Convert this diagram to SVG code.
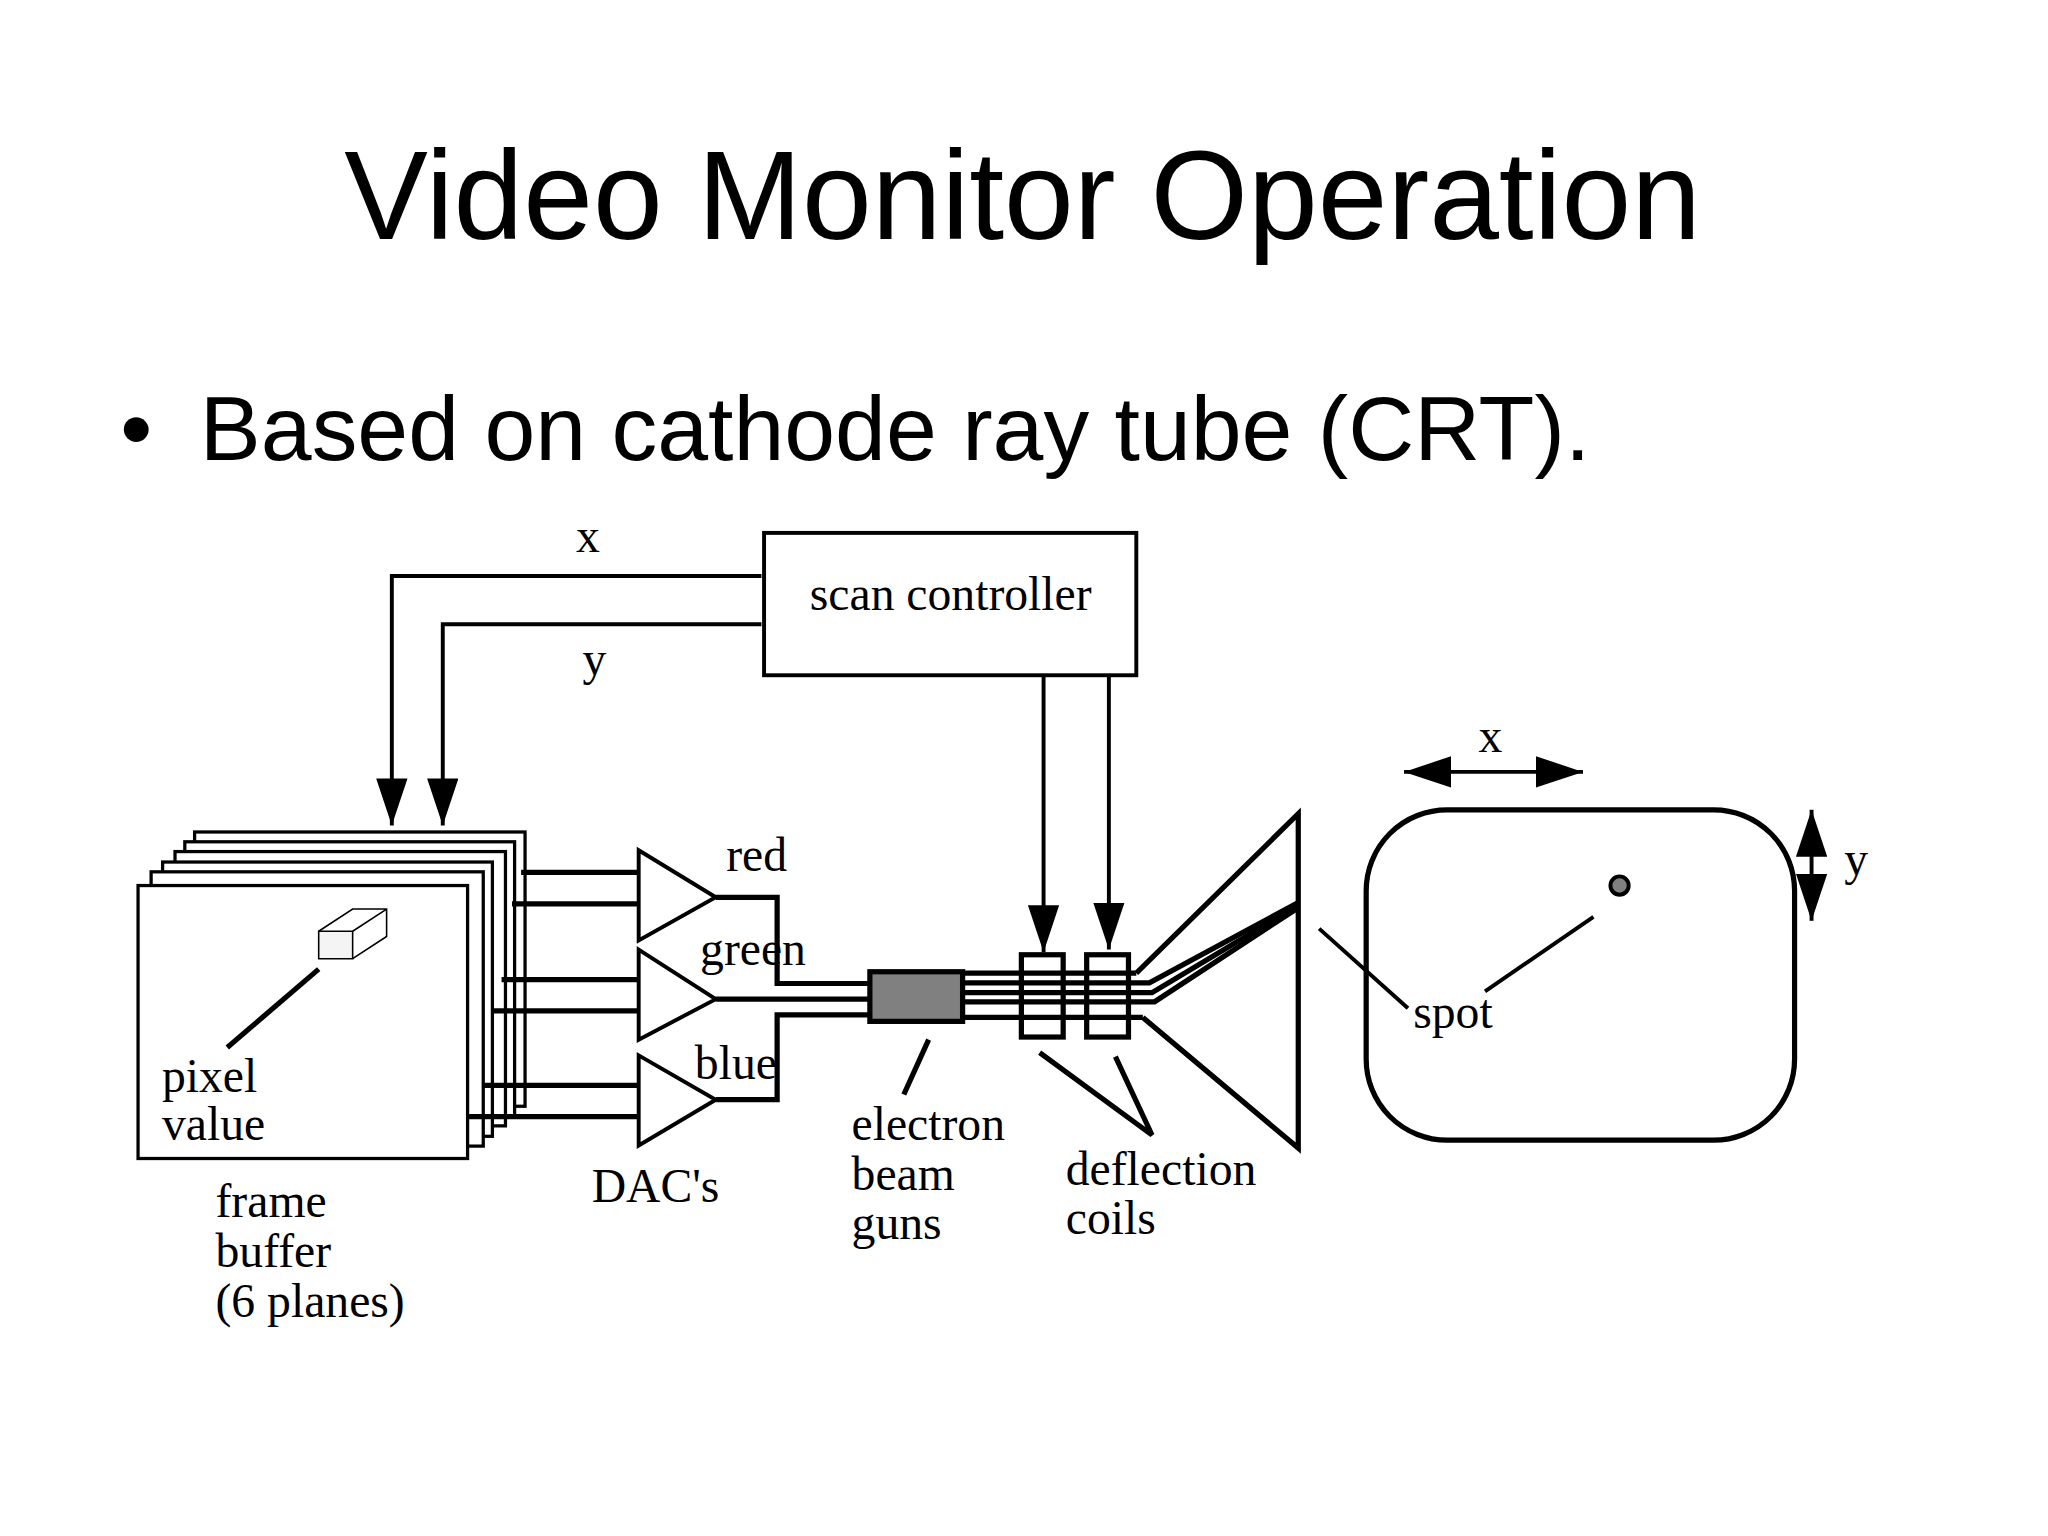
<svg xmlns="http://www.w3.org/2000/svg" width="2048" height="1536" viewBox="0 0 2048 1536">
<style>
.t{font-family:"Liberation Serif",serif;font-size:36.5px;fill:#000}
.s{font-family:"Liberation Sans",Arial,sans-serif;fill:#000}
.l{stroke:#000;stroke-width:3;fill:none}
.b{stroke:#000;stroke-width:4;fill:none}
.p{fill:#fff;stroke:#000;stroke-width:2.5}
</style>
<defs>
<marker id="ah" viewBox="0 0 36 24" refX="36" refY="12" markerUnits="userSpaceOnUse" markerWidth="36" markerHeight="24" orient="auto-start-reverse">
<path d="M0,0 L36,12 L0,24 Z" fill="#000"/>
</marker>
</defs>
<rect width="2048" height="1536" fill="#fff"/>
<g transform="scale(1.3061)">
<g id="title"><text class="s" x="783" y="183" font-size="96" text-anchor="middle">Video Monitor Operation</text></g>
<g id="bullet"><text class="s" x="92" y="352" font-size="70">•</text><text class="s" x="153" y="352" font-size="70">Based on cathode ray tube (CRT).</text></g>

<g id="scan-controller"><rect x="585" y="408" width="285" height="109" class="l" fill="#fff"/><text class="t" x="620" y="467">scan controller</text></g>

<g id="frame-buffer">
<rect class="p" x="149" y="637" width="253" height="210"/>
<rect class="p" x="141.5" y="644.5" width="252.5" height="210"/>
<rect class="p" x="134" y="652" width="253" height="210"/>
<rect class="p" x="124.5" y="660" width="252.5" height="210"/>
<rect class="p" x="115.7" y="667.5" width="254.3" height="210"/>
<rect class="p" x="105.7" y="678" width="252.3" height="209"/>
<path d="M244,713 h26 v21 h-26 z" fill="#f4f4f4" stroke="#000" stroke-width="1.2"/>
<path d="M244,713 L270,696 L296,696 L296,717 L270,734 M270,713 L296,696" fill="none" stroke="#000" stroke-width="1.2"/>
<line x1="244" y1="742" x2="174" y2="802" class="b"/>
<text class="t" x="124" y="836">pixel</text><text class="t" x="124" y="873">value</text>
<text class="t" x="165" y="932">frame</text><text class="t" x="165" y="970">buffer</text><text class="t" x="165" y="1008">(6 planes)</text>
</g>

<g id="dacs">
<path d="M489,651 L548,687 L489,720 Z" class="l" fill="#fff"/>
<path d="M489,727 L548,765 L489,796 Z" class="l" fill="#fff"/>
<path d="M489,808 L548,842 L489,877 Z" class="l" fill="#fff"/>
<text class="t" x="556" y="667">red</text><text class="t" x="536" y="739">green</text><text class="t" x="532" y="826">blue</text>
<text class="t" x="453" y="920">DAC's</text>
</g>

<g id="electron-guns">
<rect x="666" y="744" width="71" height="38" fill="#808080" stroke="#000" stroke-width="4"/>
<line x1="711" y1="796" x2="692" y2="838" class="b"/>
<text class="t" x="652" y="873">electron</text><text class="t" x="652" y="911">beam</text><text class="t" x="652" y="949">guns</text>
</g>

<g id="deflection-coils">
<rect x="782" y="731" width="32" height="63" class="b" fill="#fff"/>
<rect x="832" y="731" width="32" height="63" class="b" fill="#fff"/>
<path d="M796,806 L882,869 L854,809" class="b"/>
<text class="t" x="816" y="907">deflection</text><text class="t" x="816" y="945">coils</text>
</g>

<g id="crt">
<path d="M870,745 L994,623 L994,879 L875,779" class="b"/>
</g>

<g id="screen">
<rect x="1046" y="620" width="328" height="253" rx="62" class="b"/>
<circle cx="1240" cy="678" r="7" fill="#808080" stroke="#000" stroke-width="3"/>
<line x1="1010" y1="711" x2="1078" y2="772" class="l"/>
<line x1="1220" y1="702" x2="1137" y2="759" class="l"/>
<text class="t" x="1082" y="787">spot</text>
<line x1="1075" y1="591" x2="1212" y2="591" class="l" marker-start="url(#ah)" marker-end="url(#ah)"/>
<text class="t" x="1132" y="576">x</text>
<line x1="1387" y1="620" x2="1387" y2="705" class="l" marker-start="url(#ah)" marker-end="url(#ah)"/>
<text class="t" x="1412" y="670">y</text>
</g>

<g id="connectors">
<path d="M583,441 H300 V632" class="l" marker-end="url(#ah)"/>
<path d="M583,478 H339 V632" class="l" marker-end="url(#ah)"/>
<text class="t" x="441" y="423">x</text><text class="t" x="446" y="517">y</text>
<line x1="799" y1="517" x2="799" y2="729" class="l" marker-end="url(#ah)"/>
<line x1="849" y1="517" x2="849" y2="727" class="l" marker-end="url(#ah)"/>
<g class="b">
<line x1="399" y1="668" x2="489" y2="668"/><line x1="392" y1="692" x2="489" y2="692"/>
<line x1="384" y1="750" x2="489" y2="750"/><line x1="376" y1="774" x2="489" y2="774"/>
<line x1="369" y1="831" x2="489" y2="831"/><line x1="357" y1="855" x2="489" y2="855"/>
<path d="M548,687 H595 V753 H666"/>
<path d="M548,765 H666"/>
<path d="M548,842 H595 V777 H666"/>
<path d="M737,745 H870"/>
<path d="M737,752.5 H880 L994,691"/>
<path d="M737,760 H882 L994,693"/>
<path d="M737,767 H884 L994,695"/>
<path d="M737,779 H875"/>
</g>
</g>
</g>
</svg>
